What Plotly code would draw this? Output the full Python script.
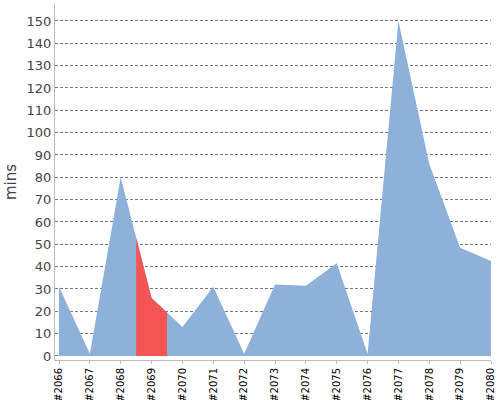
import plotly.graph_objects as go

# build numbers and durations (mins)
builds = [2066, 2067, 2068, 2069, 2070, 2071, 2072, 2073,
          2074, 2075, 2076, 2077, 2078, 2079, 2080]
labels = ["#%d" % b for b in builds]
durations = [31, 1, 80, 26, 13, 31, 1, 32, 31.5, 41.5, 1, 150, 86, 48.5, 42.5]
highlight = 3  # index of the failed build (#2069)

BLUE = "#8EB1DA"
RED = "#F35555"
GRID = "#777777"
TEXT = "#444444"


def _half(i, j):
    return (builds[i] + builds[j]) / 2.0, (durations[i] + durations[j]) / 2.0


# red band spans half a step either side of the highlighted build
lx, ly = _half(highlight - 1, highlight)
rx, ry = _half(highlight, highlight + 1)
red_x = [lx, builds[highlight], rx]
red_y = [ly, durations[highlight], ry]

fig = go.Figure()
fig.add_trace(
    go.Scatter(
        x=builds,
        y=durations,
        mode="lines",
        line=dict(width=0, color=BLUE),
        fill="tozeroy",
        fillcolor=BLUE,
        hoverinfo="skip",
    )
)
fig.add_trace(
    go.Scatter(
        x=red_x,
        y=red_y,
        mode="lines",
        line=dict(width=0, color=RED),
        fill="tozeroy",
        fillcolor=RED,
        hoverinfo="skip",
    )
)

fig.update_layout(
    width=500,
    height=400,
    margin=dict(l=55, r=9, t=4, b=40, pad=0),
    paper_bgcolor="white",
    plot_bgcolor="white",
    showlegend=False,
    font=dict(family="DejaVu Sans", color=TEXT),
)
fig.update_xaxes(
    automargin=False,
    range=[builds[0] - 0.13, builds[-1]],
    tickvals=builds,
    ticktext=labels,
    tickangle=-90,
    tickfont=dict(size=10, color="black"),
    showgrid=False,
    zeroline=False,
    showline=True,
    linecolor="#BBBBBB",
    linewidth=1,
    ticks="outside",
    ticklen=3,
    tickcolor="#BBBBBB",
)
fig.update_yaxes(
    automargin=False,
    range=[-1.8, 157.6],
    tickvals=list(range(0, 151, 10)),
    tickfont=dict(size=13, color=TEXT),
    title=dict(text="mins", font=dict(size=15, color=TEXT), standoff=6),
    showgrid=True,
    gridcolor=GRID,
    griddash="3px,2px",
    gridwidth=0.6,
    zeroline=False,
    showline=True,
    linecolor="#BBBBBB",
    linewidth=1,
    ticks="",
    layer="above traces",
)

# the page's default body margin would shift and clip the figure
fig.write_html(
    "out.html",
    config=dict(displayModeBar=False),
    post_script="document.body.style.margin = '0px';",
)
